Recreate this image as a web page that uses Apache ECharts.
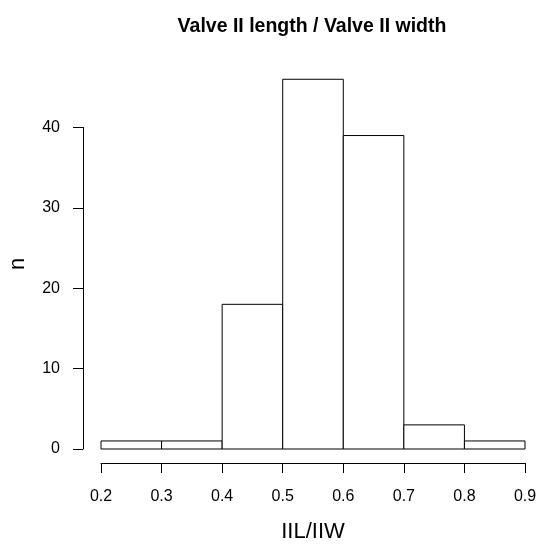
<!DOCTYPE html>
<html>
<head>
<meta charset="utf-8">
<script src="https://cdn.jsdelivr.net/npm/echarts@6/dist/echarts.min.js"></script>
<style>html,body{margin:0;padding:0;background:#fff;}#c{width:542px;height:548px;}</style>
</head>
<body>
<div id="c"></div>
<script>
var binStarts = [0.2, 0.3, 0.4, 0.5, 0.6, 0.7, 0.8];
var binEnds   = [0.3, 0.4, 0.5, 0.6, 0.7, 0.8, 0.9];
var counts    = [1, 1, 18, 46, 39, 3, 1];
var xTicks = ['0.2','0.3','0.4','0.5','0.6','0.7','0.8','0.9'];
var yTicks = ['0','10','20','30','40'];
var titleText = 'Valve II length / Valve II width';
var xName = 'IIL/IIW';
var yName = 'n';

var FONT = "'Liberation Sans', Arial, Helvetica, sans-serif";
var data = binStarts.map(function (s, i) { return [s, binEnds[i], counts[i]]; });

var chart = echarts.init(document.getElementById('c'), null, {renderer: 'canvas'});
chart.setOption({
  backgroundColor: '#ffffff',
  animation: false,
  grid: {left: 101, right: 17, top: 127.5, bottom: 99},
  xAxis: {
    type: 'value', min: 0.2, max: 0.9, interval: 0.1,
    offset: 14,
    splitLine: {show: false},
    axisLine: {show: true, onZero: false, lineStyle: {color: '#000', width: 1}},
    axisTick: {show: true, length: 10, lineStyle: {color: '#000', width: 1}},
    axisLabel: {
      margin: 26, color: '#000', fontSize: 16, fontFamily: FONT,
      formatter: function (v) { var s = v.toFixed(1); return xTicks.indexOf(s) >= 0 ? s : ''; }
    }
  },
  yAxis: {
    type: 'value', min: 0, max: 40, interval: 10,
    offset: 18,
    splitLine: {show: false},
    axisLine: {show: true, onZero: false, lineStyle: {color: '#000', width: 1}},
    axisTick: {show: true, length: 10, lineStyle: {color: '#000', width: 1}},
    axisLabel: {
      margin: 23, color: '#000', fontSize: 16, fontFamily: FONT,
      formatter: function (v) { var s = String(v); return yTicks.indexOf(s) >= 0 ? s : ''; }
    }
  },
  graphic: [
    {type: 'text', x: 312, y: 27, style: {text: titleText, fill: '#000', font: 'bold 19.5px ' + FONT, align: 'center', verticalAlign: 'middle'}},
    {type: 'text', x: 313, y: 532, style: {text: xName, fill: '#000', font: '22px ' + FONT, align: 'center', verticalAlign: 'middle'}},
    {type: 'text', x: 18, y: 264, rotation: Math.PI / 2, style: {text: yName, fill: '#000', font: '22px ' + FONT, align: 'center', verticalAlign: 'middle'}}
  ],
  series: [{
    type: 'custom',
    clip: false,
    data: data,
    encode: {x: [0, 1], y: 2},
    renderItem: function (params, api) {
      var p0 = api.coord([api.value(0), 0]);
      var p1 = api.coord([api.value(1), api.value(2)]);
      return {
        type: 'rect',
        shape: {x: p0[0], y: p1[1], width: p1[0] - p0[0], height: p0[1] - p1[1]},
        style: {fill: '#ffffff', stroke: '#000000', lineWidth: 1}
      };
    }
  }]
});
</script>
</body>
</html>
